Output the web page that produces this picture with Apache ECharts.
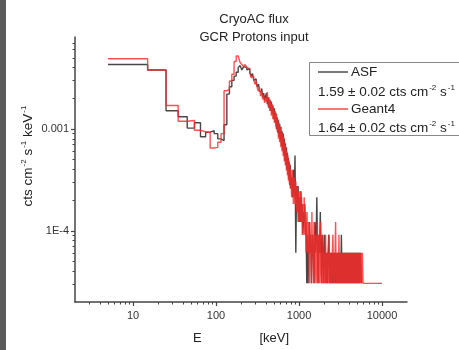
<!DOCTYPE html>
<html>
<head>
<meta charset="utf-8">
<script src="https://cdn.jsdelivr.net/npm/echarts@6/dist/echarts.min.js"></script>
<style>
html,body{margin:0;padding:0;background:#fff;}
#c{width:459px;height:350px;}
</style>
</head>
<body>
<div id="c"></div>
<script>
// ---- data ----
const asfE = [
  5,15,25,35,45,55,65,75,85,95,
  105,115,125,135,145,155,165,175,185,195,
  205,215,225,235,245,255,265,275,285,295,
  305,315,325,335,345,355,365,375,385,395,
  405,415,425,435,445,455,465,475,485,495,
  505,515,525,535,545,555,565,575,585,595,
  605,615,625,635,645,655,665,675,685,695,
  705,715,725,735,745,755,765,775,785,795,
  815,835,855,875,895,915,935,955,975,995,
  1015,1035,1055,1075,1095,1115,1135,1155,1175,1195,
  1215,
  1240,1260,1285,1310,1335,1360,1385,1410,1435,1460,
  1490,1520,1550,1580,1610,1640,1670,1700,1735,1770,
  1805,1840,1875,1910,1950,1990,2030,2070,2110,2150,
  2195,2240,2285,2330,2375,2420,2470,2520,2570,2620,
  2670,2720,2775,2830,2885,2940,3000,3060,3120,3180,
  3240,3300,3365,3430,3495,3560,3630,3700,3770,3840,
  3915,3990,4065,4140,4220,4300,4380,4465,4550,4635,
  4725,4815,4905,5000,5095,5190,5290,5390,5490,5570,
  5650
];
const asfFlux = [
  4.3e-3,3.8e-3,1.51e-3,1.32e-3,1.02e-3,1.15e-3,0.84e-3,0.93e-3,0.96e-3,0.90e-3,
  0.80e-3,0.77e-3,1.10e-3,2.2e-3,2.6e-3,3.0e-3,3.3e-3,3.6e-3,4.0e-3,4.2e-3,
  3.8e-3,4.1e-3,4.0e-3,3.8e-3,3.9e-3,3.6e-3,3.3e-3,3.5e-3,3.0e-3,3.1e-3,
  2.8e-3,2.6e-3,2.75e-3,2.35e-3,2.3e-3,2.5e-3,2.05e-3,2.25e-3,1.9e-3,2.1e-3,
  2.25e-3,1.75e-3,2.05e-3,1.6e-3,1.95e-3,1.5e-3,1.85e-3,1.4e-3,1.7e-3,1.25e-3,
  1.6e-3,1.15e-3,1.45e-3,1.0e-3,1.3e-3,0.92e-3,1.22e-3,0.84e-3,1.12e-3,0.76e-3,
  1.05e-3,0.68e-3,0.95e-3,0.62e-3,0.9e-3,0.56e-3,0.8e-3,0.49e-3,0.72e-3,0.44e-3,
  0.66e-3,0.4e-3,0.58e-3,0.36e-3,0.52e-3,0.32e-3,0.47e-3,0.28e-3,0.44e-3,0.26e-3,
  3.36e-4,2.14e-4,3.97e-4,2.14e-4,5.5e-4,6.1e-5,2.75e-4,1.53e-4,2.75e-4,1.22e-4,
  2.14e-4,1.22e-4,2.44e-4,1.22e-4,1.83e-4,9.15e-5,1.53e-4,1.22e-4,1.83e-4,9.15e-5,
  1.22e-4,
  3.05e-5,9.15e-5,3.05e-5,6.1e-5,1.22e-4,6.1e-5,9.15e-5,3.05e-5,6.1e-5,9.15e-5,
  6.1e-5,3.05e-5,1.22e-4,6.1e-5,9.15e-5,2.14e-4,6.1e-5,3.05e-5,9.15e-5,6.1e-5,
  1.53e-4,6.1e-5,3.05e-5,9.15e-5,6.1e-5,3.05e-5,9.15e-5,6.1e-5,3.05e-5,6.1e-5,
  3.05e-5,6.1e-5,9.15e-5,3.05e-5,6.1e-5,3.05e-5,6.1e-5,3.05e-5,6.1e-5,3.05e-5,
  6.1e-5,3.05e-5,6.1e-5,3.05e-5,6.1e-5,3.05e-5,6.1e-5,3.05e-5,6.1e-5,3.05e-5,
  9.15e-5,3.05e-5,6.1e-5,3.05e-5,6.1e-5,3.05e-5,6.1e-5,3.05e-5,6.1e-5,3.05e-5,
  6.1e-5,3.05e-5,6.1e-5,3.05e-5,6.1e-5,3.05e-5,6.1e-5,3.05e-5,6.1e-5,3.05e-5,
  6.1e-5,3.05e-5,6.1e-5,3.05e-5,6.1e-5,3.05e-5,6.1e-5,3.05e-5,6.1e-5,6.1e-5,
  3.05e-5
];
const g4E = [
  5,15,25,35,45,55,65,75,85,95,
  105,115,125,135,145,155,165,175,185,195,
  205,215,225,235,245,255,265,275,285,295,
  305,315,325,335,345,355,365,375,385,395,
  405,415,425,435,445,455,465,475,485,495,
  505,515,525,535,545,555,565,575,585,595,
  605,615,625,635,645,655,665,675,685,695,
  705,715,725,735,745,755,765,775,785,795,
  815,835,855,875,895,915,935,955,975,995,
  1015,1035,1055,1075,1095,1115,1135,1155,1175,1195,
  1215,
  1250,1270,1290,1310,1330,1350,1370,1390,1410,1430,
  1450,1470,1490,1515,1540,1565,1590,1615,1640,1665,
  1690,1715,1740,1765,1790,1820,1850,1880,1910,1940,
  1970,2000,2030,2060,2090,2125,2160,2195,2230,2265,
  2300,2335,2370,2405,2440,2480,2520,2560,2600,2640,
  2680,2720,2760,2805,2850,2895,2940,2985,3030,3080,
  3130,3180,3230,3280,3330,3380,3435,3490,3545,3600,
  3655,3710,3770,3830,3890,3950,4010,4070,4135,4200,
  4265,4330,4395,4465,4535,4605,4675,4745,4820,4895,
  4970,5045,5125,5205,5285,5365,5450,5535,5620,5705,
  5790,5905,10000
];
const g4Flux = [
  4.9e-3,3.8e-3,1.70e-3,1.19e-3,1.21e-3,0.97e-3,0.94e-3,0.92e-3,0.65e-3,0.66e-3,
  0.74e-3,0.9e-3,2.37e-3,2.45e-3,2.96e-3,3.45e-3,4.6e-3,5.2e-3,5.0e-3,4.5e-3,
  4.3e-3,4.1e-3,4.3e-3,4.0e-3,3.9e-3,3.6e-3,3.2e-3,3.3e-3,3.0e-3,2.75e-3,
  2.95e-3,2.5e-3,2.35e-3,2.55e-3,2.1e-3,2.35e-3,1.95e-3,2.15e-3,1.8e-3,2.0e-3,
  1.85e-3,2.3e-3,1.65e-3,2.05e-3,1.5e-3,1.9e-3,1.35e-3,1.75e-3,1.25e-3,1.6e-3,
  1.15e-3,1.5e-3,1.05e-3,1.4e-3,0.95e-3,1.25e-3,0.8e-3,1.15e-3,0.74e-3,1.05e-3,
  0.66e-3,0.96e-3,0.6e-3,0.9e-3,0.54e-3,0.84e-3,0.48e-3,0.74e-3,0.44e-3,0.66e-3,
  0.39e-3,0.6e-3,0.35e-3,0.55e-3,0.31e-3,0.49e-3,0.29e-3,0.45e-3,0.26e-3,0.4e-3,
  2.14e-4,3.97e-4,1.83e-4,3.36e-4,1.83e-4,3.05e-4,1.53e-4,2.75e-4,1.22e-4,2.44e-4,
  1.22e-4,2.44e-4,1.22e-4,2.14e-4,9.15e-5,1.83e-4,1.22e-4,2.14e-4,9.15e-5,1.53e-4,
  6.1e-5,
  1.53e-4,6.1e-5,1.22e-4,9.15e-5,3.05e-5,1.22e-4,6.1e-5,9.15e-5,3.05e-5,1.53e-4,
  6.1e-5,9.15e-5,3.05e-5,1.22e-4,6.1e-5,3.05e-5,9.15e-5,6.1e-5,3.05e-5,1.22e-4,
  3.05e-5,6.1e-5,9.15e-5,3.05e-5,6.1e-5,1.22e-4,3.05e-5,6.1e-5,3.05e-5,9.15e-5,
  3.05e-5,6.1e-5,3.05e-5,6.1e-5,9.15e-5,3.05e-5,6.1e-5,3.05e-5,6.1e-5,3.05e-5,
  9.15e-5,3.05e-5,6.1e-5,3.05e-5,6.1e-5,3.05e-5,6.1e-5,9.15e-5,3.05e-5,6.1e-5,
  3.05e-5,6.1e-5,1.22e-4,3.05e-5,6.1e-5,3.05e-5,6.1e-5,3.05e-5,9.15e-5,3.05e-5,
  6.1e-5,3.05e-5,6.1e-5,3.05e-5,6.1e-5,3.05e-5,6.1e-5,3.05e-5,6.1e-5,3.05e-5,
  6.1e-5,3.05e-5,6.1e-5,3.05e-5,6.1e-5,3.05e-5,6.1e-5,3.05e-5,6.1e-5,3.05e-5,
  6.1e-5,3.05e-5,6.1e-5,3.05e-5,6.1e-5,3.05e-5,6.1e-5,3.05e-5,6.1e-5,3.05e-5,
  6.1e-5,3.05e-5,6.1e-5,3.05e-5,6.1e-5,3.05e-5,6.1e-5,3.05e-5,6.1e-5,3.05e-5,
  6.1e-5,3.05e-5,3.05e-5
];
const xMajorTicks = [10, 100, 1000, 10000];
const xMinorTicks = [3,4,5,6,7,8,9,20,30,40,50,60,70,80,90,200,300,400,500,600,700,800,900,2000,3000,4000,5000,6000,7000,8000,9000];
const yMajorTicks = [1e-4, 1e-3];
const yMinorTicks = [3e-5,4e-5,5e-5,6e-5,7e-5,8e-5,9e-5,2e-4,3e-4,4e-4,5e-4,6e-4,7e-4,8e-4,9e-4,2e-3,3e-3,4e-3,5e-3,6e-3,7e-3];
const yTickText = {'-4': '1E-4', '-3': '0.001'};
const titleLines = ['CryoAC flux', 'GCR Protons input'];
const xName = 'E                [keV]';
const seriesNames = ['ASF', 'Geant4'];
const seriesStats = ['1.59 ± 0.02', '1.64 ± 0.02'];

const FONT = 'Liberation Sans, Arial, sans-serif';
const AX = '#444';
const asfData = asfE.map((e, i) => [e, asfFlux[i]]);
const g4Data = g4E.map((e, i) => [e, g4Flux[i]]);

const chart = echarts.init(document.getElementById('c'), null, {renderer: 'canvas'});

const xBase = {type: 'log', logBase: 10, min: 2, max: 20000, gridIndex: 0, position: 'bottom', splitLine: {show: false}};
const yBase = {type: 'log', logBase: 10, min: 2e-5, max: 8e-3, gridIndex: 0, position: 'left', splitLine: {show: false}};

const rich = {
  sup: {fontSize: 8, fontFamily: FONT, fill: '#222', verticalAlign: 'top', lineHeight: 16, padding: [0,0,0,1]},
  n: {fontSize: 13.5, fontFamily: FONT, fill: '#222', lineHeight: 16}
};

chart.setOption({
  animation: false,
  backgroundColor: '#fff',
  title: {
    text: titleLines.join('\n'),
    left: 249, top: 5, textAlign: 'center',
    textStyle: {fontFamily: FONT, fontSize: 13, fontWeight: 'normal', color: '#222', lineHeight: 18}
  },
  grid: {left: 75, right: 52, top: 37, bottom: 45, containLabel: false},
  xAxis: [
    Object.assign({}, xBase, {
      name: xName, nameLocation: 'middle', nameGap: 30,
      nameTextStyle: {fontFamily: FONT, fontSize: 13, color: '#222'},
      axisLine: {show: true, lineStyle: {color: AX, width: 1.5}},
      axisTick: {show: true, inside: false, length: 4, customValues: xMajorTicks, lineStyle: {color: AX, width: 1.2}},
      axisLabel: {show: true, customValues: xMajorTicks, fontFamily: FONT, fontSize: 11, color: '#333', margin: 8,
        formatter: v => String(Math.round(v))}
    }),
    Object.assign({}, xBase, {
      axisLine: {show: false},
      axisTick: {show: true, inside: false, length: 2.5, customValues: xMinorTicks, lineStyle: {color: AX, width: 1}},
      axisLabel: {show: false}
    })
  ],
  yAxis: [
    Object.assign({}, yBase, {
      axisLine: {show: true, lineStyle: {color: AX, width: 1.5}},
      axisTick: {show: true, inside: false, length: 4, customValues: yMajorTicks, lineStyle: {color: AX, width: 1.2}},
      axisLabel: {show: true, customValues: yMajorTicks, fontFamily: FONT, fontSize: 11, color: '#333', margin: 6,
        formatter: v => yTickText[String(Math.round(Math.log10(v)))] || ''}
    }),
    Object.assign({}, yBase, {
      axisLine: {show: false},
      axisTick: {show: true, inside: false, length: 2.5, customValues: yMinorTicks, lineStyle: {color: AX, width: 1}},
      axisLabel: {show: false}
    })
  ],
  series: [
    {name: seriesNames[0], type: 'line', step: 'end', data: asfData, showSymbol: false, symbol: 'none',
     xAxisIndex: 0, yAxisIndex: 0, clip: true,
     lineStyle: {color: '#333', width: 1.4, opacity: 0.9}},
    {name: seriesNames[1], type: 'line', step: 'end', data: g4Data, showSymbol: false, symbol: 'none',
     xAxisIndex: 0, yAxisIndex: 0, clip: true,
     lineStyle: {color: '#ff2a2a', width: 1.4, opacity: 0.82}}
  ],
  graphic: [
    {type: 'rect', left: 0, top: 0, shape: {x: 0, y: 0, width: 6, height: 350}, style: {fill: '#5a5a5a'}, silent: true},
    {type: 'text', x: 28, y: 156, rotation: Math.PI / 2,
     style: {text: '{n|cts cm}{sup|-2}{n| s}{sup|-1}{n| keV}{sup|-1}', rich: rich, align: 'center', verticalAlign: 'middle'}},
    {type: 'rect', shape: {x: 309.5, y: 62.5, width: 170, height: 73}, style: {fill: '#fff', stroke: '#888', lineWidth: 1}, z: 10},
    {type: 'line', shape: {x1: 318, y1: 72, x2: 348, y2: 72}, style: {stroke: '#333', lineWidth: 1.3}, z: 11},
    {type: 'text', x: 351, y: 72, style: {text: seriesNames[0], font: '13.5px ' + FONT, fill: '#222', verticalAlign: 'middle'}, z: 11},
    {type: 'text', x: 318, y: 92, style: {text: '{n|' + seriesStats[0] + ' cts cm}{sup|-2}{n| s}{sup|-1}', rich: rich, verticalAlign: 'middle'}, z: 11},
    {type: 'line', shape: {x1: 318, y1: 109, x2: 348, y2: 109}, style: {stroke: '#ff2a2a', lineWidth: 1.3}, z: 11},
    {type: 'text', x: 351, y: 109, style: {text: seriesNames[1], font: '13.5px ' + FONT, fill: '#222', verticalAlign: 'middle'}, z: 11},
    {type: 'text', x: 318, y: 128, style: {text: '{n|' + seriesStats[1] + ' cts cm}{sup|-2}{n| s}{sup|-1}', rich: rich, verticalAlign: 'middle'}, z: 11}
  ]
});
</script>
</body>
</html>
